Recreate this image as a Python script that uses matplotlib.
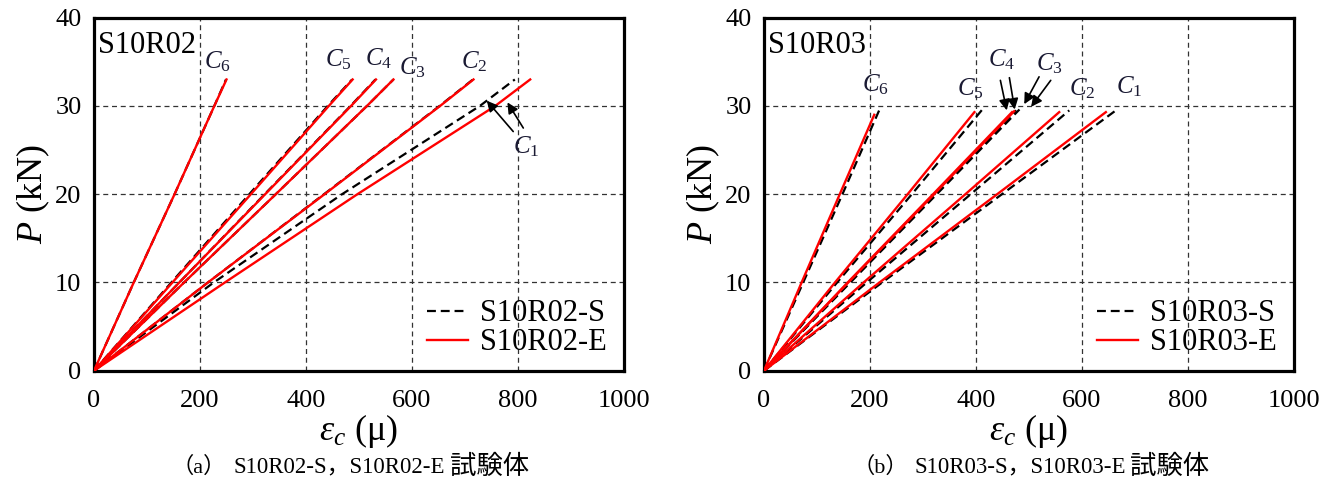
import matplotlib
matplotlib.use("Agg")
import matplotlib.pyplot as plt

plt.rcParams['font.family'] = ['Liberation Serif', 'Noto Sans CJK JP']
plt.rcParams['mathtext.fontset'] = 'custom'
plt.rcParams['mathtext.rm'] = 'Liberation Serif'
plt.rcParams['mathtext.it'] = 'Liberation Serif:italic'
plt.rcParams['mathtext.bf'] = 'Liberation Serif:bold'

# ---------------- data: panel (a) S10R02 ----------------
a_P = [0, 10, 20, 30, 33.0]
a_C1_S = [0, 226, 468, 728, 794]
a_C1_E = [0, 247, 497, 757, 823]
a_C2_S = [0, 215, 434, 652, 715]
a_C2_E = [0, 215, 435, 653, 716]
a_C3_S = [0, 170, 343, 515, 565]
a_C3_E = [0, 170, 343, 515, 565]
a_C4_S = [0, 161, 322, 484, 531]
a_C4_E = [0, 161, 323, 485, 532]
a_C5_S = [0, 146, 293, 441, 487]
a_C5_E = [0, 148, 296, 443, 488]
a_C6_S = [0, 75, 152, 227, 249]
a_C6_E = [0, 75, 152, 227, 250]

# ---------------- data: panel (b) S10R03 ----------------
b_C1_S = ([0, 223, 449, 664], [0, 10, 20, 29.5])
b_C1_E = ([0, 218, 440, 645], [0, 10, 20, 29.3])
b_C2_S = ([0, 194, 390, 576], [0, 10, 20, 29.5])
b_C2_E = ([0, 188, 380, 557], [0, 10, 20, 29.3])
b_C3_S = ([0, 163, 326, 482], [0, 10, 20, 29.6])
b_C3_E = ([0, 159, 321, 472], [0, 10, 20, 29.4])
b_C4_S = ([0, 161, 323, 476], [0, 10, 20, 29.5])
b_C4_E = ([0, 158, 319, 468], [0, 10, 20, 29.3])
b_C5_S = ([0, 138, 279, 412], [0, 10, 20, 29.6])
b_C5_E = ([0, 134, 271, 397], [0, 10, 20, 29.3])
b_C6_S = ([0, 74, 148, 218], [0, 10, 20, 29.6])
b_C6_E = ([0, 71, 143, 208], [0, 10, 20, 29.0])

x_ticks = [0, 200, 400, 600, 800, 1000]
y_ticks = [0, 10, 20, 30, 40]

c_labels = ["$C_\\mathit{1}$", "$C_\\mathit{2}$", "$C_\\mathit{3}$",
            "$C_\\mathit{4}$", "$C_\\mathit{5}$", "$C_\\mathit{6}$"]
a_label_pos = [(816, 25.4), (718, 35.0), (601, 34.3), (537, 35.4), (461, 35.2), (232, 35.0)]
b_label_pos = [(689, 32.2), (601, 32.0), (538, 34.8), (449, 35.2), (390, 32.0), (211, 32.4)]

# arrows (tail -> head)
a_arrows = [((791, 27.1), (741, 30.6)), ((810, 27.5), (780, 30.4))]
b_arrows = [((446, 32.9), (458, 29.5)), ((463, 33.2), (473, 29.6)),
            ((519, 33.3), (491, 30.2)), ((541, 32.9), (504, 29.9))]

fig = plt.figure(figsize=(13.43, 4.86), dpi=100)
ax1 = fig.add_axes([94/1343, 115.3/486, 530/1343, 353/486])
ax2 = fig.add_axes([764/1343, 115.3/486, 530/1343, 353/486])

RED = '#ff0000'
LBL = '#1a1a33'


def style(ax, name):
    ax.set_xlim(0, 1000)
    ax.set_ylim(0, 40)
    ax.set_xticks(x_ticks)
    ax.set_yticks(y_ticks)
    ax.tick_params(length=0, labelsize=19, pad=9)
    ax.tick_params(axis='x', pad=14)
    ax.grid(True, color='#333333', lw=0.9, ls=(0, (4, 3)))
    ax.set_axisbelow(True)
    for s in ax.spines.values():
        s.set_linewidth(2.3)
    ax.set_xlabel("$ε_c$ (μ)", fontsize=26, labelpad=0)
    ax.set_ylabel("$P$ (kN)", fontsize=26, labelpad=2)
    ax.text(0.008, 0.922, name, transform=ax.transAxes, fontsize=22,
            ha='left', va='center')


def draw_legend(ax):
    ax.legend(loc='lower right', bbox_to_anchor=(1.0, -0.01), frameon=False,
              fontsize=22, handlelength=1.35, handletextpad=0.4,
              labelspacing=0.0, borderaxespad=0.15)


# panel (a)
a_S = [a_C1_S, a_C2_S, a_C3_S, a_C4_S, a_C5_S, a_C6_S]
a_E = [a_C1_E, a_C2_E, a_C3_E, a_C4_E, a_C5_E, a_C6_E]
for i, (s, e) in enumerate(zip(a_S, a_E)):
    ax1.plot(s, a_P, color='k', lw=1.6, dashes=(4, 2.2),
             label='S10R02-S' if i == 0 else None, zorder=3)
    ax1.plot(e, a_P, color=RED, lw=1.7, label='S10R02-E' if i == 0 else None, zorder=4)
style(ax1, 'S10R02')
for lab, (x, y) in zip(c_labels, a_label_pos):
    ax1.text(x, y, lab, fontsize=18, color=LBL, ha='center', va='center')
for (t, h) in a_arrows:
    ax1.annotate('', xy=h, xytext=t,
                 arrowprops=dict(arrowstyle='-|>', color='k', lw=1.2, mutation_scale=16,
                                 shrinkA=0, shrinkB=0), zorder=6)
draw_legend(ax1)

# panel (b)
b_S = [b_C1_S, b_C2_S, b_C3_S, b_C4_S, b_C5_S, b_C6_S]
b_E = [b_C1_E, b_C2_E, b_C3_E, b_C4_E, b_C5_E, b_C6_E]
for i, (s, e) in enumerate(zip(b_S, b_E)):
    ax2.plot(s[0], s[1], color='k', lw=1.6, dashes=(4, 2.2),
             label='S10R03-S' if i == 0 else None, zorder=3)
    ax2.plot(e[0], e[1], color=RED, lw=1.7, label='S10R03-E' if i == 0 else None, zorder=4)
style(ax2, 'S10R03')
for lab, (x, y) in zip(c_labels, b_label_pos):
    ax2.text(x, y, lab, fontsize=18, color=LBL, ha='center', va='center')
for (t, h) in b_arrows:
    ax2.annotate('', xy=h, xytext=t,
                 arrowprops=dict(arrowstyle='-|>', color='k', lw=1.2, mutation_scale=16,
                                 shrinkA=0, shrinkB=0), zorder=6)
draw_legend(ax2)

# captions
cap_y = 1 - 467/486
for x0, tag, body in [(172, "（a）", "S10R02-S，S10R02-E"),
                      (852, "（b）", "S10R03-S，S10R03-E")]:
    fig.text(x0/1343, cap_y, tag, fontsize=16, ha='left', va='center')
    fig.text((x0 + 62)/1343, cap_y, body, fontsize=16.5, ha='left', va='center')
    fig.text((x0 + 278)/1343, cap_y, "試験体", fontsize=19, ha='left', va='center')

fig.savefig('out.png', dpi=100)
